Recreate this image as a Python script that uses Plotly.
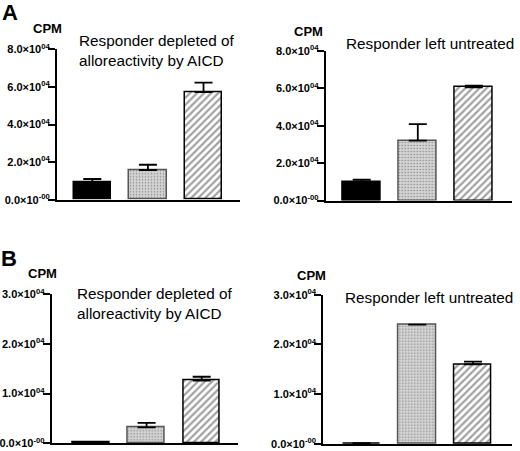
import plotly.graph_objects as go

# conditions (no x tick labels in the figure)
conditions = ["Condition 1", "Condition 2", "Condition 3"]

# panel A: proliferation (CPM)
a_depleted = [9300, 15800, 57300]
a_depleted_err = [1700, 2800, 5000]
a_untreated = [9800, 32000, 60600]
a_untreated_err = [1300, 8900, 900]

# panel B: CPM
b_depleted = [150, 3200, 12600]
b_depleted_err = [None, 900, 800]
b_untreated = [150, 24000, 16000]
b_untreated_err = [None, None, 550]

a_ticks = [0, 20000, 40000, 60000, 80000]
a_ticktext = ["0.0×10<sup>-00</sup>", "2.0×10<sup>04</sup>", "4.0×10<sup>04</sup>",
              "6.0×10<sup>04</sup>", "8.0×10<sup>04</sup>"]
b_ticks = [0, 10000, 20000, 30000]
b_ticktext = ["0.0×10<sup>-00</sup>", "1.0×10<sup>04</sup>", "2.0×10<sup>04</sup>",
              "3.0×10<sup>04</sup>"]

W, H = 520, 451
FONT = "Liberation Sans, Arial, sans-serif"


def px(x):
    return x / W


def py(y):
    return 1 - y / H


def bar_trace(vals, errs, xa, ya):
    return go.Bar(
        x=conditions, y=vals, xaxis=xa, yaxis=ya, width=0.67,
        marker=dict(
            color=["black", "#d3d3d3", "white"],
            line=dict(color=["black", "#555555", "black"], width=1.5),
            pattern=dict(shape=["", ".", "/"],
                         bgcolor=["black", "#d3d3d3", "white"],
                         fgcolor=["black", "#c4c4c4", "black"],
                         size=[8, 3, 5], solidity=[0.3, 0.2, 0.45]),
        ),
        error_y=dict(type="data", array=errs, arrayminus=[0, 0, 0], symmetric=False,
                     color="black", thickness=1.8, width=9),
        showlegend=False,
    )


fig = go.Figure()
fig.add_trace(bar_trace(a_depleted, a_depleted_err, "x", "y"))
fig.add_trace(bar_trace(a_untreated, a_untreated_err, "x2", "y2"))
fig.add_trace(bar_trace(b_depleted, b_depleted_err, "x3", "y3"))
fig.add_trace(bar_trace(b_untreated, b_untreated_err, "x4", "y4"))

xcommon = dict(showline=True, linecolor="black", linewidth=2, ticks="",
               showticklabels=False, showgrid=False, zeroline=False, automargin=False)
ycommon = dict(showline=True, linecolor="black", linewidth=2, ticks="outside",
               ticklen=7, tickwidth=1.5, tickcolor="black", showgrid=False,
               zeroline=False, automargin=False, ticklabelstandoff=-4,
               tickfont=dict(family=FONT, size=11, color="black", weight="bold"))

fig.update_layout(
    width=W, height=H, margin=dict(l=0, r=0, t=0, b=0, autoexpand=False),
    plot_bgcolor="white", paper_bgcolor="white", bargap=0,
    xaxis=dict(domain=[px(57), px(240)], range=[-0.635, 2.656], anchor="y", **xcommon),
    yaxis=dict(domain=[py(199.7), py(49.3)], range=[0, 80000], anchor="x",
               tickvals=a_ticks, ticktext=a_ticktext, **ycommon),
    xaxis2=dict(domain=[px(325.7), px(511.7)], range=[-0.642, 2.674], anchor="y2", **xcommon),
    yaxis2=dict(domain=[py(200.5), py(51)], range=[0, 80000], anchor="x2",
                tickvals=a_ticks, ticktext=a_ticktext, **ycommon),
    xaxis3=dict(domain=[px(51.7), px(238)], range=[-0.722, 2.659], anchor="y3", **xcommon),
    yaxis3=dict(domain=[py(443.3), py(294.3)], range=[0, 30000], anchor="x3",
                tickvals=b_ticks, ticktext=b_ticktext, **ycommon),
    xaxis4=dict(domain=[px(323.3), px(511.7)], range=[-0.685, 2.694], anchor="y4", **xcommon),
    yaxis4=dict(domain=[py(444), py(294.7)], range=[0, 30000], anchor="x4",
                tickvals=b_ticks, ticktext=b_ticktext, **ycommon),
)


def note(text, x, y, size, bold=False, xanchor="left"):
    fig.add_annotation(
        text=text, x=px(x), y=py(y), xref="paper", yref="paper",
        xanchor=xanchor, yanchor="middle", align="left", showarrow=False,
        font=dict(family=FONT, size=size, color="black",
                  weight="bold" if bold else "normal"),
    )


note("A", 0, 12.5, 22, bold=True)
note("B", -1, 258, 22, bold=True)
note("CPM", 31, 28.5, 13, bold=True)
note("CPM", 292, 31.5, 13, bold=True)
note("CPM", 26, 273, 13, bold=True)
note("CPM", 295, 275, 13, bold=True)
note("Responder depleted of<br>alloreactivity by AICD", 77, 51, 15.3)
note("Responder left untreated", 344, 43.5, 15.3)
note("Responder depleted of<br>alloreactivity by AICD", 75, 303, 15.3)
note("Responder left untreated", 343, 297, 15.3)

# pin the plot to the window's top-left corner, no page margin or scrollbars
pin = ("document.body.style.margin='0';document.body.style.overflow='hidden';"
       "var gd=document.getElementById('{plot_id}');"
       "gd.style.position='fixed';gd.style.left='0';gd.style.top='0';")
fig.write_html("out.html", config={"displayModeBar": False}, post_script=pin)
